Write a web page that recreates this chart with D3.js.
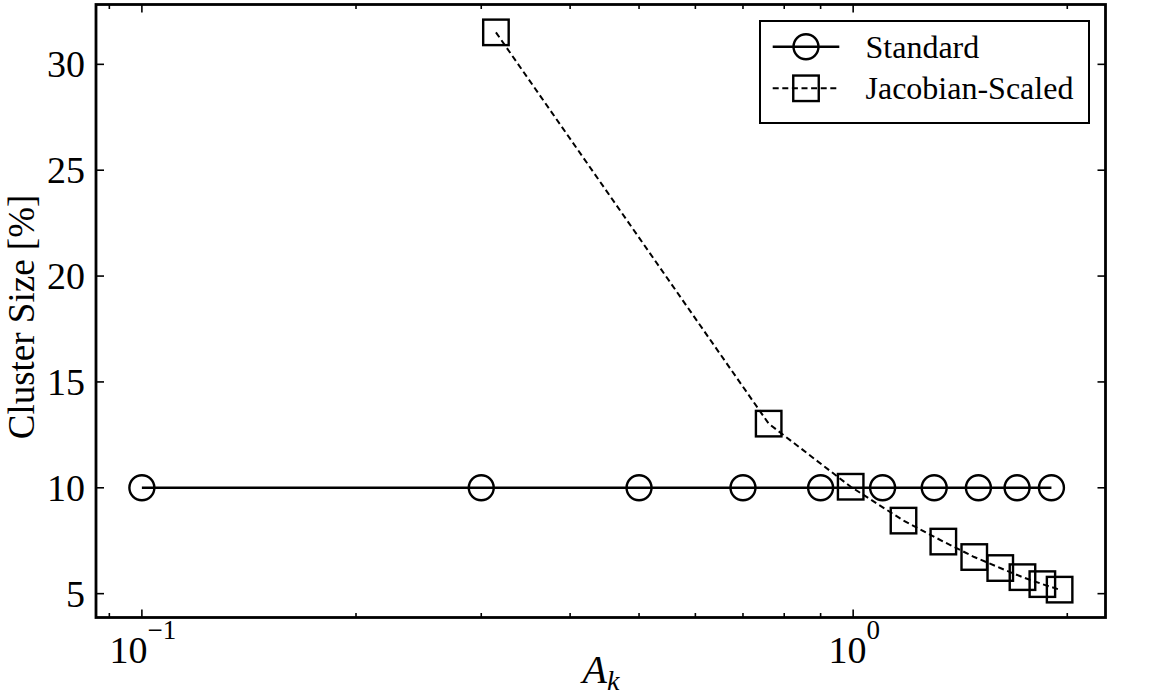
<!DOCTYPE html>
<html>
<head>
<meta charset="utf-8">
<script src="https://cdn.jsdelivr.net/npm/d3@7"></script>
<style>
  html, body { margin: 0; padding: 0; background: #fff; }
  svg { display: block; font-family: "Liberation Serif", "Times New Roman", serif; }
</style>
</head>
<body>
<svg id="chart" width="1163" height="699"></svg>
<script>
// ---- data ----
const seriesNames = ["Standard", "Jacobian-Scaled"];
const xStandard = [0.1, 0.3, 0.5, 0.7, 0.9, 1.1, 1.3, 1.5, 1.7, 1.9];
const yStandard = [10, 10, 10, 10, 10, 10, 10, 10, 10, 10];
const xJacobian = [0.3146, 0.7607, 0.992, 1.177, 1.339, 1.480, 1.610, 1.730, 1.845, 1.951];
const yJacobian = [31.51, 13.03, 10.05, 8.45, 7.46, 6.73, 6.21, 5.78, 5.45, 5.19];
const yTicks = [5, 10, 15, 20, 25, 30];
const xMajorTicks = [0.1, 1];
const xMajorExp = ["\u22121", "0"];
const xMinorTicks = [0.09, 0.2, 0.3, 0.4, 0.5, 0.6, 0.7, 0.8, 0.9, 2];

// ---- layout ----
const svg = d3.select("#chart");
const L = 96, R = 1105.5, T = 4.5, B = 617.5;

// matplotlib-like 5% margins
const allX = xStandard.concat(xJacobian).map(Math.log10);
const allY = yStandard.concat(yJacobian);
const lx0 = d3.min(allX), lx1 = d3.max(allX), px = 0.05 * (lx1 - lx0);
const y0 = d3.min(allY), y1 = d3.max(allY), py = 0.05 * (y1 - y0);

const x = d3.scaleLog().domain([Math.pow(10, lx0 - px), Math.pow(10, lx1 + px)]).range([L, R]);
const y = d3.scaleLinear().domain([y0 - py, y1 + py]).range([B, T]);

const g = svg.append("g");

// ---- ticks (inward, all four sides) ----
const majorLen = 8, minorLen = 4.5;
const tickStyle = s => s.attr("stroke", "#000").attr("stroke-width", 1.6);
xMajorTicks.forEach(v => {
  const X = x(v);
  tickStyle(g.append("line").attr("x1", X).attr("x2", X).attr("y1", B).attr("y2", B - majorLen));
  tickStyle(g.append("line").attr("x1", X).attr("x2", X).attr("y1", T).attr("y2", T + majorLen));
});
xMinorTicks.filter(v => v >= x.domain()[0] && v <= x.domain()[1]).forEach(v => {
  const X = x(v);
  tickStyle(g.append("line").attr("x1", X).attr("x2", X).attr("y1", B).attr("y2", B - minorLen));
  tickStyle(g.append("line").attr("x1", X).attr("x2", X).attr("y1", T).attr("y2", T + minorLen));
});
yTicks.forEach(v => {
  const Y = y(v);
  tickStyle(g.append("line").attr("x1", L).attr("x2", L + majorLen).attr("y1", Y).attr("y2", Y));
  tickStyle(g.append("line").attr("x1", R).attr("x2", R - majorLen).attr("y1", Y).attr("y2", Y));
});

// ---- tick labels ----
yTicks.forEach(v => {
  g.append("text").attr("x", 85).attr("y", y(v) + 13)
    .attr("text-anchor", "end").attr("font-size", 38).text(v);
});
xMajorTicks.forEach((v, i) => {
  const t = g.append("text").attr("x", x(v) + 1).attr("y", 663)
    .attr("text-anchor", "middle").attr("font-size", 38);
  t.append("tspan").text("10");
  t.append("tspan").attr("font-size", 27).attr("dy", -24).text(xMajorExp[i]);
});

// ---- axis labels ----
const xl = g.append("text").attr("x", 601).attr("y", 683)
  .attr("text-anchor", "middle").attr("font-size", 40).attr("font-style", "italic");
xl.append("tspan").text("A");
xl.append("tspan").attr("font-size", 28).attr("dy", 7).text("k");

g.append("text").attr("transform", `translate(34,${(T + B) / 2 + 6}) rotate(-90)`)
  .attr("text-anchor", "middle").attr("font-size", 37).text("Cluster Size [%]");

// ---- series ----
const line = d3.line().x(d => x(d[0])).y(d => y(d[1]));
const stdData = xStandard.map((v, i) => [v, yStandard[i]]);
const jacData = xJacobian.map((v, i) => [v, yJacobian[i]]);
const circR = 12.5, sq = 25.5;

g.append("path").datum(stdData).attr("d", line)
  .attr("fill", "none").attr("stroke", "#000").attr("stroke-width", 2.6);
g.selectAll("circle.std").data(stdData).enter().append("circle")
  .attr("cx", d => x(d[0])).attr("cy", d => y(d[1])).attr("r", circR)
  .attr("fill", "none").attr("stroke", "#000").attr("stroke-width", 2.4);

g.append("path").datum(jacData).attr("d", line)
  .attr("fill", "none").attr("stroke", "#000").attr("stroke-width", 2)
  .attr("stroke-dasharray", "6,3.6");
g.selectAll("rect.jac").data(jacData).enter().append("rect")
  .attr("x", d => x(d[0]) - sq / 2).attr("y", d => y(d[1]) - sq / 2)
  .attr("width", sq).attr("height", sq)
  .attr("fill", "none").attr("stroke", "#000").attr("stroke-width", 2.4);

// ---- frame ----
g.append("rect").attr("x", L).attr("y", T).attr("width", R - L).attr("height", B - T)
  .attr("fill", "none").attr("stroke", "#000").attr("stroke-width", 2.8);

// ---- legend ----
const lg = g.append("g");
lg.append("rect").attr("x", 760).attr("y", 21).attr("width", 329).attr("height", 102)
  .attr("fill", "#fff").attr("stroke", "#000").attr("stroke-width", 2);
const rows = [46.7, 88.3];
// Standard
lg.append("line").attr("x1", 772.7).attr("x2", 839.3).attr("y1", rows[0]).attr("y2", rows[0])
  .attr("stroke", "#000").attr("stroke-width", 2.6);
lg.append("circle").attr("cx", 806).attr("cy", rows[0]).attr("r", circR)
  .attr("fill", "none").attr("stroke", "#000").attr("stroke-width", 2.4);
lg.append("text").attr("x", 865.5).attr("y", rows[0] + 11).attr("font-size", 32).text(seriesNames[0]);
// Jacobian-Scaled
lg.append("line").attr("x1", 772.7).attr("x2", 839.3).attr("y1", rows[1]).attr("y2", rows[1])
  .attr("stroke", "#000").attr("stroke-width", 2).attr("stroke-dasharray", "6,3.6");
lg.append("rect").attr("x", 806 - sq / 2).attr("y", rows[1] - sq / 2).attr("width", sq).attr("height", sq)
  .attr("fill", "none").attr("stroke", "#000").attr("stroke-width", 2.4);
lg.append("text").attr("x", 865.5).attr("y", rows[1] + 11).attr("font-size", 32).text(seriesNames[1]);
</script>
</body>
</html>
